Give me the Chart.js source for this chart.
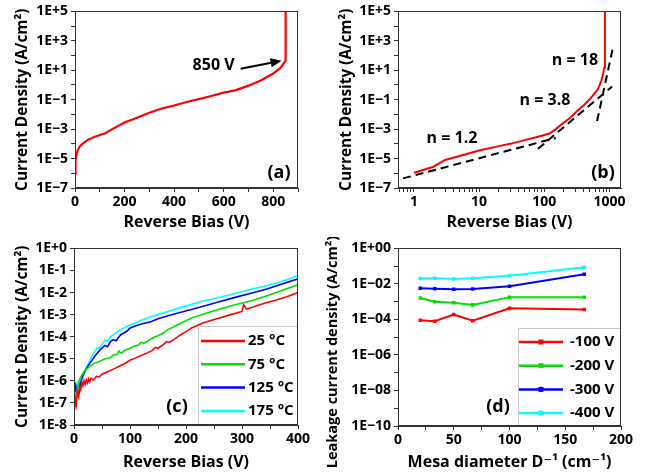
<!DOCTYPE html>
<html lang="en">
<head>
<meta charset="UTF-8">
<title>Reverse leakage current density</title>
<script src="https://cdn.jsdelivr.net/npm/chart.js@4.4.0/dist/chart.umd.min.js"></script>
<style>
    body { margin: 0; background: #fff; }
    .panel { position: absolute; }
    #pa { left: 0; top: 0; width: 324px; height: 237px; }
    #pb { left: 324px; top: 0; width: 325px; height: 237px; }
    #pc { left: 0; top: 237px; width: 324px; height: 237px; }
    #pd { left: 322px; top: 237px; width: 327px; height: 237px; }
</style>
</head>
<body>
<div class="panel" id="pa"><canvas id="chartA"></canvas></div>
<div class="panel" id="pb"><canvas id="chartB"></canvas></div>
<div class="panel" id="pc"><canvas id="chartC"></canvas></div>
<div class="panel" id="pd"><canvas id="chartD"></canvas></div>

<script>
    // (a) / (b): room temperature sweep up to breakdown
    const biasV = [0, 1, 2, 3, 5, 10, 20, 30, 50, 75, 100, 120, 150, 200, 250, 300, 350, 400, 450, 500, 550, 600, 650, 700, 750, 800, 830, 850, 850];
    const densityJ = [1e-6, 1.1e-6, 2.8e-6, 8e-6, 1.5e-5, 3.5e-5, 7e-5, 1e-4, 1.8e-4, 2.8e-4, 4e-4, 5e-4, 1e-3, 2.8e-3, 6e-3, 1.3e-2, 2.5e-2, 4e-2, 7e-2, 0.11, 0.18, 0.3, 0.45, 0.9, 2, 6, 15, 45, 1e5];

    // (b) power law fits J ~ V^n
    const fit12V = [0.68, 150], fit12J = [4.5e-7, 2.5e-4];
    const fit38V = [80, 1100], fit38J = [4.6e-5, 0.8];
    const fit18V = [645, 1120], fit18J = [3.5e-3, 300];
    const fitNames = ['n = 1.2', 'n = 3.8', 'n = 18'];

    // (c) temperature dependence
    const tempLabels = ['25 °C', '75 °C', '125 °C', '175 °C'];
    const v25 = [1, 2, 4, 6, 8, 10, 12, 14, 16, 18, 20, 22, 24, 26, 28, 30, 35, 40, 45, 50, 60, 70, 80, 90, 100, 110, 120, 130, 140, 145, 150, 160, 165, 170, 180, 190, 200, 210, 220, 230, 240, 260, 280, 300, 303, 308, 320, 340, 360, 380, 400];
    const j25 = [5e-8, 1.5e-7, 8e-8, 3e-7, 2e-7, 6e-7, 4e-7, 9e-7, 6e-7, 1e-6, 7e-7, 1.1e-6, 8e-7, 1.2e-6, 9e-7, 1.3e-6, 1.1e-6, 1.6e-6, 1.5e-6, 2e-6, 2.6e-6, 3.4e-6, 4.5e-6, 6e-6, 8.5e-6, 1.1e-5, 1.4e-5, 1.8e-5, 2.4e-5, 3.3e-5, 3e-5, 4.5e-5, 6e-5, 5.5e-5, 8e-5, 1.2e-4, 1.7e-4, 2.5e-4, 3.2e-4, 4.2e-4, 5e-4, 7e-4, 1e-3, 1.4e-3, 2.8e-3, 1.8e-3, 2.2e-3, 3.3e-3, 4.5e-3, 6.5e-3, 1e-2];
    const v75 = [1, 3, 5, 8, 12, 17, 22, 29, 38, 47, 56, 65, 70, 77, 80, 85, 90, 100, 107, 115, 120, 125, 137, 145, 150, 160, 166, 180, 196, 210, 226, 250, 286, 320, 346, 370, 400];
    const j75 = [1e-7, 2e-7, 3e-7, 8.5e-7, 1.5e-6, 2.4e-6, 3.3e-6, 4.8e-6, 6.5e-6, 8e-6, 1e-5, 1.1e-5, 1.5e-5, 1.6e-5, 2.2e-5, 1.8e-5, 2.4e-5, 3e-5, 3.7e-5, 4.2e-5, 5.5e-5, 5e-5, 7.9e-5, 1e-4, 1.1e-4, 1.5e-4, 2e-4, 3e-4, 4.8e-4, 7e-4, 9.6e-4, 1.5e-3, 2.7e-3, 4.5e-3, 7.4e-3, 1.2e-2, 2.3e-2];
    const v125 = [1, 3, 5, 8, 10, 13, 17, 22, 29, 38, 47, 55, 60, 65, 70, 75, 83, 95, 100, 107, 120, 137, 150, 166, 196, 226, 256, 286, 316, 346, 370, 400];
    const j125 = [3e-7, 6e-7, 3e-7, 2.2e-7, 4e-7, 1e-6, 2e-6, 3.5e-6, 6.7e-6, 1.4e-5, 2.6e-5, 4e-5, 3.5e-5, 6e-5, 7.4e-5, 6.5e-5, 1.2e-4, 1.8e-4, 2.5e-4, 2.9e-4, 3.8e-4, 4.8e-4, 6.5e-4, 8.7e-4, 1.4e-3, 2.2e-3, 3.6e-3, 5.9e-3, 9.3e-3, 1.5e-2, 2.4e-2, 4.2e-2];
    const v175 = [1, 3, 5, 8, 11, 14, 17, 22, 29, 35, 41, 45, 50, 55, 60, 65, 75, 85, 95, 107, 120, 137, 150, 166, 196, 226, 256, 286, 316, 346, 370, 400];
    const j175 = [2e-7, 4e-7, 7e-7, 4e-7, 8e-7, 1.5e-6, 2.4e-6, 4e-6, 9.3e-6, 1.8e-5, 3.1e-5, 3e-5, 4.5e-5, 7e-5, 6.5e-5, 1e-4, 1.5e-4, 2.2e-4, 3e-4, 4e-4, 5.5e-4, 8e-4, 1e-3, 1.35e-3, 2.3e-3, 3.8e-3, 5.8e-3, 8.9e-3, 1.4e-2, 2.1e-2, 3.2e-2, 5.8e-2];

    // (d) leakage vs inverse mesa diameter
    const biasLabels = ['-100 V', '-200 V', '-300 V', '-400 V'];
    const mesaInv = [20, 33, 50, 67, 100, 167];
    const leak100 = [9e-5, 8e-5, 1.9e-4, 8.5e-5, 4.2e-4, 3.6e-4];
    const leak200 = [1.6e-3, 1e-3, 8.6e-4, 6.6e-4, 1.8e-3, 1.8e-3];
    const leak300 = [5.7e-3, 5.4e-3, 5e-3, 5.2e-3, 7.4e-3, 3.5e-2];
    const leak400 = [2e-2, 2.1e-2, 1.9e-2, 2.1e-2, 2.9e-2, 8.6e-2];

    // tick labels
    const yTickAB = [1e-7, 1e-5, 1e-3, 1e-1, 1e1, 1e3, 1e5];
    const yLabelAB = ['1E\u22127', '1E\u22125', '1E\u22123', '1E\u22121', '1E+1', '1E+3', '1E+5'];
    const yTickC = [1e-8, 1e-7, 1e-6, 1e-5, 1e-4, 1e-3, 1e-2, 1e-1, 1];
    const yLabelC = ['1E-8', '1E-7', '1E-6', '1E-5', '1E-4', '1E-3', '1E-2', '1E-1', '1E+0'];
    const yTickD = [1e-10, 1e-8, 1e-6, 1e-4, 1e-2, 1];
    const yLabelD = ['1E\u221210', '1E\u221208', '1E\u221206', '1E\u221204', '1E\u221202', '1E+00'];
    const xTickA = [0, 200, 400, 600, 800];
    const xTickB = [1, 10, 100, 1000];
    const xTickC = [0, 100, 200, 300, 400];
    const xTickD = [0, 50, 100, 150, 200];

    const fam = '"Open Sans", "DejaVu Sans", sans-serif';
    const tickFont = {family: fam, size: 14, weight: 'bold'};
    const titleFont = {family: fam, size: 16, weight: 'bold'};
    const yTitleFont = {family: fam, size: 15.4, weight: 'bold'};
    const axisCol = '#333';

    const pts = (xs, ys) => xs.map((x, i) => ({x: x, y: ys[i]}));
    const sameVal = (a, b) => Math.abs(Math.log10(a) - Math.log10(b)) < 1e-6;

    function decades(lo, hi) {
        const t = [];
        for (let e = Math.round(Math.log10(lo)); e <= Math.round(Math.log10(hi)); e++) t.push({value: Number('1e' + e)});
        return t;
    }

    function logY(min, max, tickVals, tickLabels, title, w, titlePad) {
        return {
            type: 'logarithmic', min: min, max: max,
            afterBuildTicks: s => { s.ticks = decades(min, max); },
            afterFit: s => { s.width = w; },
            ticks: {
                autoSkip: false, font: tickFont, color: '#000', padding: 3,
                callback: v => {
                    const i = tickVals.findIndex(t => sameVal(t, v));
                    return i >= 0 ? tickLabels[i] : '';
                }
            },
            grid: {drawOnChartArea: false, tickLength: 4, tickColor: axisCol},
            border: {color: axisCol},
            title: {display: !!title, text: title, font: yTitleFont, color: '#000', padding: {top: titlePad, bottom: 0}}
        };
    }

    function linX(min, max, step, tickVals, title, h, titlePad) {
        return {
            type: 'linear', min: min, max: max,
            afterFit: s => { s.height = h; },
            ticks: {
                stepSize: step, autoSkip: false, maxRotation: 0, font: tickFont, color: '#000', padding: 2,
                callback: v => tickVals.includes(v) ? String(v) : ''
            },
            grid: {drawOnChartArea: false, tickLength: 4, tickColor: axisCol},
            border: {color: axisCol},
            title: {display: true, text: title, font: titleFont, color: '#000', padding: {top: 0, bottom: titlePad}}
        };
    }

    // box around the plot area
    const framePlugin = {
        id: 'frame',
        afterDraw(chart) {
            const {ctx, chartArea: a} = chart;
            ctx.save();
            ctx.strokeStyle = axisCol;
            ctx.lineWidth = 1;
            ctx.strokeRect(Math.round(a.left) + 0.5, Math.round(a.top) + 0.5, Math.round(a.right - a.left) - 1, Math.round(a.bottom - a.top) - 1);
            ctx.restore();
        }
    };

    // panel letters, fit labels, the breakdown arrow and a long side title
    const notesPlugin = {
        id: 'notes',
        afterDraw(chart, args, opts) {
            const ctx = chart.ctx;
            ctx.save();
            ctx.fillStyle = '#000';
            ctx.textBaseline = 'middle';
            (opts.texts || []).forEach(t => {
                ctx.font = 'bold ' + t.size + 'px ' + fam;
                ctx.textAlign = t.align || 'center';
                ctx.fillText(t.text, t.x, t.y);
            });
            if (opts.sideTitle) {
                const st = opts.sideTitle;
                ctx.save();
                ctx.translate(st.x, st.y);
                ctx.rotate(-Math.PI / 2);
                ctx.font = 'bold ' + st.size + 'px ' + fam;
                ctx.textAlign = 'center';
                ctx.fillText(st.text, 0, 0);
                ctx.restore();
            }
            if (opts.arrow) {
                const ar = opts.arrow;
                const tx = chart.scales.x.getPixelForValue(ar.at[0]) - ar.gap;
                const ty = chart.scales.y.getPixelForValue(ar.at[1]);
                const sx = tx + ar.dx, sy = ty + ar.dy;
                const ang = Math.atan2(ty - sy, tx - sx);
                ctx.strokeStyle = '#000';
                ctx.lineWidth = 2;
                ctx.beginPath();
                ctx.moveTo(sx, sy);
                ctx.lineTo(tx - 8 * Math.cos(ang), ty - 8 * Math.sin(ang));
                ctx.stroke();
                ctx.beginPath();
                ctx.moveTo(tx, ty);
                ctx.lineTo(tx - 11 * Math.cos(ang) + 4.5 * Math.sin(ang), ty - 11 * Math.sin(ang) - 4.5 * Math.cos(ang));
                ctx.lineTo(tx - 11 * Math.cos(ang) - 4.5 * Math.sin(ang), ty - 11 * Math.sin(ang) + 4.5 * Math.cos(ang));
                ctx.closePath();
                ctx.fill();
                ctx.font = 'bold 16px ' + fam;
                ctx.textAlign = 'right';
                ctx.fillText(ar.text, sx - 6, sy - 3);
            }
            ctx.restore();
        }
    };

    // legend in the lower right corner of the plot
    const boxLegendPlugin = {
        id: 'boxLegend',
        afterDatasetsDraw(chart, args, o) {
            const {ctx, chartArea: a} = chart;
            ctx.save();
            ctx.fillStyle = '#fff';
            ctx.fillRect(o.left, o.top, a.right - o.left, a.bottom - o.top);
            ctx.strokeStyle = '#c8c8c8';
            ctx.lineWidth = 1;
            ctx.beginPath();
            ctx.moveTo(o.left + 0.5, a.bottom);
            ctx.lineTo(o.left + 0.5, o.top + 0.5);
            ctx.lineTo(a.right, o.top + 0.5);
            ctx.stroke();
            ctx.font = 'bold 15px ' + fam;
            ctx.textBaseline = 'middle';
            ctx.textAlign = 'left';
            chart.data.datasets.forEach((ds, i) => {
                const y = o.y0 + i * o.step;
                ctx.strokeStyle = ds.borderColor;
                ctx.lineWidth = 2.5;
                ctx.beginPath();
                ctx.moveTo(o.x0, y);
                ctx.lineTo(o.x1, y);
                ctx.stroke();
                if (o.marker) {
                    ctx.fillStyle = ds.borderColor;
                    ctx.fillRect((o.x0 + o.x1) / 2 - 2.5, y - 2.5, 5, 5);
                }
                ctx.fillStyle = '#000';
                ctx.fillText(ds.label, o.textX, y);
            });
            ctx.restore();
        }
    };

    function opts(pad, scales, plugins) {
        return {
            responsive: true,
            maintainAspectRatio: false,
            animation: false,
            elements: {point: {radius: 0}, line: {tension: 0}},
            layout: {padding: pad},
            scales: scales,
            plugins: Object.assign({legend: {display: false}, tooltip: {enabled: false}}, plugins)
        };
    }

    const densTitle = 'Current Density (A/cm\u00B2)';
    const biasTitle = 'Reverse Bias (V)';

    // (a)
    new Chart(document.getElementById('chartA'), {
        type: 'line',
        data: {datasets: [{label: 'J', data: pts(biasV, densityJ), borderColor: '#ff0000', borderWidth: 2.2}]},
        options: opts({top: 9, right: 26, left: 0, bottom: 0}, {
            x: linX(0, 900, 100, xTickA, biasTitle, 49, 5),
            y: logY(1e-7, 1e5, yTickAB, yLabelAB, densTitle, 75, 13)
        }, {
            notes: {
                texts: [{text: '(a)', x: 279, y: 173, size: 18}],
                arrow: {at: [850, 45], gap: 4, dx: -41, dy: 8, text: '850 V'}
            }
        }),
        plugins: [framePlugin, notesPlugin]
    });

    // (b)
    const fitStyle = {borderColor: '#000', borderWidth: 2, borderDash: [8, 5]};
    const biasPos = biasV.filter(v => v > 0);
    const densPos = densityJ.filter((j, i) => biasV[i] > 0);
    const xLogB = {
        type: 'logarithmic', min: 0.57, max: 1500,
        afterBuildTicks: s => {
            const t = [];
            [0.1, 1, 10, 100, 1000].forEach(d => {
                for (let m = 1; m < 10; m++) {
                    const v = Math.round(m * d * 10) / 10;
                    if (v >= 0.57 && v <= 1500) t.push({value: v});
                }
            });
            s.ticks = t;
        },
        afterFit: s => { s.height = 49; },
        ticks: {
            autoSkip: false, maxRotation: 0, font: tickFont, color: '#000', padding: 2,
            callback: v => xTickB.includes(v) ? String(v) : ''
        },
        grid: {drawOnChartArea: false, tickLength: 4, tickColor: axisCol},
        border: {color: axisCol},
        title: {display: true, text: biasTitle, font: titleFont, color: '#000', padding: {top: 0, bottom: 5}}
    };
    new Chart(document.getElementById('chartB'), {
        type: 'line',
        data: {
            datasets: [
                {label: 'J', data: pts(biasPos, densPos), borderColor: '#ff0000', borderWidth: 2},
                Object.assign({label: fitNames[0], data: pts(fit12V, fit12J)}, fitStyle),
                Object.assign({label: fitNames[1], data: pts(fit38V, fit38J)}, fitStyle),
                Object.assign({label: fitNames[2], data: pts(fit18V, fit18J)}, fitStyle)
            ]
        },
        options: opts({top: 9, right: 28, left: 0, bottom: 0}, {
            x: xLogB,
            y: logY(1e-7, 1e5, yTickAB, yLabelAB, densTitle, 74, 13)
        }, {
            notes: {
                texts: [
                    {text: fitNames[0], x: 128, y: 138, size: 16},
                    {text: fitNames[1], x: 221, y: 100, size: 16},
                    {text: fitNames[2], x: 251, y: 60, size: 16},
                    {text: '(b)', x: 279, y: 173, size: 18}
                ]
            }
        }),
        plugins: [framePlugin, notesPlugin]
    });

    // (c)
    const tempCols = ['#ff0000', '#00e000', '#0000ff', '#00ffff'];
    const tempData = [pts(v25, j25), pts(v75, j75), pts(v125, j125), pts(v175, j175)];
    new Chart(document.getElementById('chartC'), {
        type: 'line',
        data: {datasets: tempData.map((d, i) => ({label: tempLabels[i], data: d, borderColor: tempCols[i], borderWidth: 1.6}))},
        options: opts({top: 9, right: 26, left: 0, bottom: 0}, {
            x: linX(0, 400, 50, xTickC, biasTitle, 49, 2),
            y: logY(1e-8, 1, yTickC, yLabelC, densTitle, 74, 13)
        }, {
            notes: {texts: [{text: '(c)', x: 177, y: 170, size: 18}]},
            boxLegend: {left: 198, top: 89, y0: 104, step: 23.3, x0: 201, x1: 245, textX: 248}
        }),
        plugins: [framePlugin, boxLegendPlugin, notesPlugin]
    });

    // (d) - the y title is longer than the axis, so it is drawn by hand
    const leakSets = [leak100, leak200, leak300, leak400];
    new Chart(document.getElementById('chartD'), {
        type: 'line',
        data: {
            datasets: leakSets.map((l, i) => ({
                label: biasLabels[i], data: pts(mesaInv, l), borderColor: tempCols[i], backgroundColor: tempCols[i],
                borderWidth: 2, pointStyle: 'rect', pointRadius: 2.5, pointBorderWidth: 0
            }))
        },
        options: opts({top: 11, right: 28, left: 0, bottom: 0}, {
            x: linX(0, 200, 25, xTickD, 'Mesa diameter D\u207B\u00B9 (cm\u207B\u00B9)', 48, 2),
            y: logY(1e-10, 1, yTickD, yLabelD, '', 76, 0)
        }, {
            notes: {
                texts: [{text: '(d)', x: 176, y: 170, size: 18}],
                sideTitle: {text: 'Leakage current density (A/cm\u00B2)', x: 11, y: 115, size: 14.5}
            },
            boxLegend: {left: 196, top: 91, y0: 105, step: 23.7, x0: 197, x1: 241, textX: 248, marker: true}
        }),
        plugins: [framePlugin, boxLegendPlugin, notesPlugin]
    });
</script>
</body>
</html>
